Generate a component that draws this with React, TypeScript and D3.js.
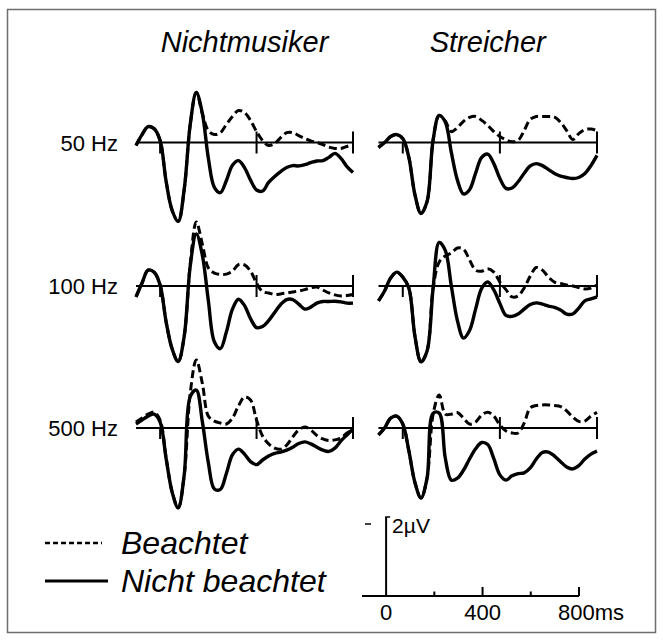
import React, { useEffect, useRef } from 'react';
import * as d3 from 'd3';

// time axis of every curve (ms)
const times = [-100, -75, -50, -25, 0, 25, 50, 75, 100, 125, 150, 175, 200, 225, 250, 275, 300, 325, 350, 375, 400, 425, 450, 475, 500, 525, 550, 575, 600, 625, 650, 675, 700, 725, 750, 775, 800];

const groups = ['Nichtmusiker', 'Streicher'];
const frequencies = ['50 Hz', '100 Hz', '500 Hz'];
const legendLabels = ['Beachtet', 'Nicht beachtet'];
const panelTicks = [0, 400, 800];
const scaleTicks = [0, 200, 400, 600, 800];
const scaleTickLabels = ['0', '400', '800ms'];

// amplitudes in µV (negative plotted upwards)
const nm50Beachtet = [0.09, -0.24, -0.48, -0.42, -0.06, 1.18, 2.06, 2.39, 1.42, -0.55, -1.52, -0.88, -0.36, -0.24, -0.30, -0.55, -0.79, -0.97, -0.91, -0.67, -0.33, -0.06, 0.09, 0.03, -0.15, -0.30, -0.30, -0.21, -0.12, -0.05, 0, 0.06, 0.14, 0.18, 0.18, 0.12, 0.06];
const nm50Nicht = [0.09, -0.24, -0.48, -0.42, -0.06, 1.18, 2.06, 2.39, 1.42, -0.55, -1.52, -0.89, 0.47, 1.36, 1.52, 1.15, 0.69, 0.55, 0.76, 1.14, 1.44, 1.47, 1.21, 1.03, 0.88, 0.76, 0.70, 0.71, 0.67, 0.61, 0.56, 0.55, 0.45, 0.33, 0.48, 0.73, 0.91];
const st50Beachtet = [0.15, 0, -0.18, -0.24, -0.12, 0.45, 1.58, 2.15, 1.79, -0.08, -0.82, -0.65, -0.33, -0.45, -0.64, -0.76, -0.79, -0.67, -0.52, -0.33, -0.18, -0.08, -0.02, -0.06, -0.36, -0.70, -0.79, -0.79, -0.79, -0.77, -0.61, -0.36, -0.09, -0.27, -0.39, -0.41, -0.36];
const st50Nicht = [0.15, 0, -0.18, -0.24, -0.12, 0.45, 1.58, 2.15, 1.79, -0.08, -0.82, -0.62, 0.30, 1.14, 1.56, 1.43, 0.93, 0.45, 0.35, 0.64, 1.09, 1.39, 1.38, 1.19, 0.93, 0.71, 0.64, 0.70, 0.82, 0.94, 1.02, 1.06, 1.09, 1.06, 0.94, 0.70, 0.39];

const nm100Beachtet = [0.33, -0.09, -0.48, -0.42, -0.03, 1.09, 1.91, 2.29, 1.52, -0.67, -1.94, -1.27, -0.55, -0.39, -0.35, -0.36, -0.45, -0.65, -0.64, -0.45, -0.09, 0.17, 0.21, 0.26, 0.24, 0.21, 0.18, 0.15, 0.11, 0.05, 0.03, 0.12, 0.21, 0.27, 0.30, 0.29, 0.26];
const nm100Nicht = [0.33, -0.09, -0.48, -0.42, -0.03, 1.09, 1.91, 2.29, 1.52, -0.61, -1.58, -0.94, 0.44, 1.69, 1.90, 1.39, 0.70, 0.40, 0.59, 0.99, 1.26, 1.23, 1.05, 0.80, 0.56, 0.41, 0.41, 0.55, 0.70, 0.64, 0.52, 0.47, 0.47, 0.46, 0.48, 0.52, 0.52];
const st100Beachtet = [0.45, 0.15, -0.24, -0.42, -0.27, 0.06, 1.52, 2.30, 1.97, 0.06, -0.73, -0.91, -1.00, -1.15, -1.12, -0.79, -0.48, -0.45, -0.52, -0.42, -0.12, 0.11, 0.33, 0.30, 0.06, -0.30, -0.56, -0.48, -0.27, -0.12, -0.08, -0.03, 0, 0.05, 0.09, 0.06, -0.03];
const st100Nicht = [0.45, 0.15, -0.24, -0.42, -0.27, 0.06, 1.52, 2.30, 1.97, 0.06, -1.32, -1.08, 0, 1.05, 1.58, 1.35, 0.70, 0.07, -0.12, 0.12, 0.53, 0.89, 0.92, 0.85, 0.70, 0.56, 0.51, 0.55, 0.61, 0.65, 0.73, 0.85, 0.85, 0.67, 0.45, 0.39, 0.33];

const nm500Beachtet = [-0.18, -0.30, -0.42, -0.48, -0.24, 0.91, 1.94, 2.42, 1.42, -1.06, -2.06, -1.36, -0.36, -0.21, -0.15, -0.12, -0.30, -0.67, -0.94, -0.85, -0.24, 0.24, 0.48, 0.61, 0.64, 0.52, 0.27, 0.06, -0.03, 0.06, 0.23, 0.33, 0.38, 0.36, 0.30, 0.15, 0.06];
const nm500Nicht = [-0.12, -0.24, -0.36, -0.42, -0.18, 0.93, 1.95, 2.42, 1.42, -0.95, -1.15, -0.20, 1.05, 1.85, 1.86, 1.37, 0.81, 0.64, 0.79, 1.02, 1.11, 0.97, 0.85, 0.77, 0.73, 0.67, 0.58, 0.47, 0.42, 0.48, 0.58, 0.67, 0.71, 0.61, 0.39, 0.21, 0.03];
const st500Beachtet = [0.21, 0, -0.30, -0.36, -0.12, 0.69, 1.65, 2.12, 1.52, -0.42, -1.00, -0.42, -0.42, -0.47, -0.30, -0.12, -0.18, -0.39, -0.48, -0.36, -0.09, 0.09, 0.15, 0.15, -0.15, -0.61, -0.68, -0.70, -0.70, -0.68, -0.65, -0.52, -0.33, -0.20, -0.21, -0.36, -0.48];
const st500Nicht = [0.21, 0, -0.30, -0.36, -0.12, 0.69, 1.65, 2.12, 1.52, -0.45, -0.45, 0.91, 1.58, 1.52, 1.28, 0.94, 0.63, 0.44, 0.50, 0.93, 1.42, 1.58, 1.45, 1.38, 1.36, 1.21, 0.94, 0.74, 0.73, 0.85, 1.02, 1.18, 1.24, 1.14, 0.94, 0.79, 0.70];

const panels = [
  { row: 0, col: 0, beachtet: nm50Beachtet, nicht: nm50Nicht },
  { row: 0, col: 1, beachtet: st50Beachtet, nicht: st50Nicht },
  { row: 1, col: 0, beachtet: nm100Beachtet, nicht: nm100Nicht },
  { row: 1, col: 1, beachtet: st100Beachtet, nicht: st100Nicht },
  { row: 2, col: 0, beachtet: nm500Beachtet, nicht: nm500Nicht },
  { row: 2, col: 1, beachtet: st500Beachtet, nicht: st500Nicht },
];

const W = 663;
const H = 640;
const colRange = [[136, 353], [378.5, 597]];
const rowBase = [142.5, 286, 428];
const pxPerUV = 33;
const FONT = '"Liberation Sans", Arial, sans-serif';

const App = () => {
  const ref = useRef<SVGSVGElement>(null);

  useEffect(() => {
    const svg = d3.select(ref.current);
    svg.selectAll('*').remove();

    svg.append('rect').attr('width', W).attr('height', H).attr('fill', '#fff');
    // frame
    svg.append('rect')
      .attr('x', 7.5).attr('y', 9.5).attr('width', 648).attr('height', 623)
      .attr('fill', 'none').attr('stroke', '#6e6e6e').attr('stroke-width', 1.5);

    // column titles
    groups.forEach((g, c) => {
      svg.append('text')
        .attr('x', (colRange[c][0] + colRange[c][1]) / 2)
        .attr('y', 52)
        .attr('text-anchor', 'middle')
        .style('font-family', FONT)
        .style('font-style', 'italic')
        .style('font-size', '29px')
        .text(g);
    });

    // row labels
    frequencies.forEach((f, r) => {
      svg.append('text')
        .attr('x', 118)
        .attr('y', rowBase[r] + 8)
        .attr('text-anchor', 'end')
        .style('font-family', FONT)
        .style('font-size', '22px')
        .text(f);
    });

    panels.forEach((p) => {
      const x = d3.scaleLinear().domain([-100, 800]).range(colRange[p.col]);
      const base = rowBase[p.row];
      const y = d3.scaleLinear().domain([-2, 2]).range([base - 2 * pxPerUV, base + 2 * pxPerUV]);
      const g = svg.append('g');

      g.append('line')
        .attr('x1', x(-100)).attr('x2', x(800))
        .attr('y1', y(0)).attr('y2', y(0))
        .attr('stroke', '#000').attr('stroke-width', 2);

      panelTicks.forEach((t) => {
        g.append('line')
          .attr('x1', x(t)).attr('x2', x(t))
          .attr('y1', t === 0 ? y(0) : y(0) - 11)
          .attr('y2', y(0) + 11)
          .attr('stroke', '#000').attr('stroke-width', 2);
      });

      const line = d3.line<number>()
        .x((d, i) => x(times[i]))
        .y((d) => y(d))
        .curve(d3.curveCatmullRom.alpha(0.5));

      g.append('path')
        .datum(p.beachtet)
        .attr('d', line)
        .attr('fill', 'none')
        .attr('stroke', '#000')
        .attr('stroke-width', 3)
        .attr('stroke-dasharray', '8,4');

      g.append('path')
        .datum(p.nicht)
        .attr('d', line)
        .attr('fill', 'none')
        .attr('stroke', '#000')
        .attr('stroke-width', 3.4)
        .attr('stroke-linejoin', 'round');
    });

    // legend
    const legendY = [543, 581];
    legendLabels.forEach((l, i) => {
      svg.append('line')
        .attr('x1', 45).attr('x2', i === 0 ? 102 : 108)
        .attr('y1', legendY[i]).attr('y2', legendY[i])
        .attr('stroke', '#000')
        .attr('stroke-width', i === 0 ? 2.5 : 3)
        .attr('stroke-dasharray', i === 0 ? '5,3' : null);
      svg.append('text')
        .attr('x', 121)
        .attr('y', legendY[i] + 11)
        .style('font-family', FONT)
        .style('font-style', 'italic')
        .style('font-size', '32px')
        .text(l);
    });

    // scale bar
    const sx = d3.scaleLinear().domain([-100, 800]).range([362, 579]);
    const sy = d3.scaleLinear().domain([0, 2]).range([596, 517]);
    const sb = svg.append('g');
    sb.append('line')
      .attr('x1', sx(-100)).attr('x2', sx(800))
      .attr('y1', sy(0)).attr('y2', sy(0))
      .attr('stroke', '#000').attr('stroke-width', 2);
    sb.append('line')
      .attr('x1', sx(0)).attr('x2', sx(0))
      .attr('y1', sy(0)).attr('y2', sy(2))
      .attr('stroke', '#000').attr('stroke-width', 2);
    sb.append('line')
      .attr('x1', sx(0) - 1).attr('x2', sx(0) + 4)
      .attr('y1', sy(2)).attr('y2', sy(2))
      .attr('stroke', '#000').attr('stroke-width', 1.5);
    sb.append('line')
      .attr('x1', 365).attr('x2', 371)
      .attr('y1', 524).attr('y2', 524)
      .attr('stroke', '#000').attr('stroke-width', 1.5);
    sb.append('text')
      .attr('x', sx(0) + 6).attr('y', 533)
      .style('font-family', FONT).style('font-size', '21px')
      .text('2µV');

    scaleTicks.slice(1).forEach((t) => {
      sb.append('line')
        .attr('x1', sx(t)).attr('x2', sx(t))
        .attr('y1', sy(0)).attr('y2', sy(0) - (t % 400 === 0 ? 9 : 4.5))
        .attr('stroke', '#000').attr('stroke-width', 2);
    });
    [0, 400, 800].forEach((t, i) => {
      sb.append('text')
        .attr('x', i < 2 ? sx(t) : sx(t) - 21)
        .attr('y', 620)
        .attr('text-anchor', i < 2 ? 'middle' : 'start')
        .style('font-family', FONT)
        .style('font-size', '22px')
        .text(scaleTickLabels[i]);
    });
  }, []);

  return (
    <svg
      ref={ref}
      width={W}
      height={H}
      style={{ position: 'absolute', left: 0, top: 0, display: 'block' }}
    />
  );
};

export default App;
